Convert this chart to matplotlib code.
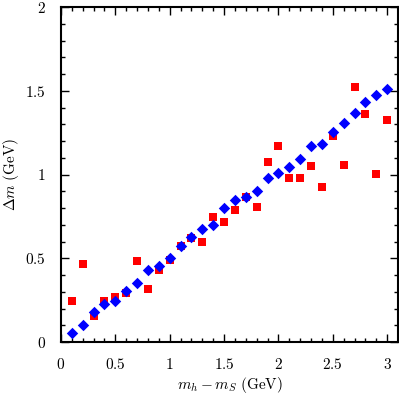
import matplotlib
matplotlib.use("Agg")
import matplotlib.pyplot as plt
from matplotlib.ticker import MultipleLocator, FixedLocator, FixedFormatter

plt.rcParams['mathtext.fontset'] = 'cm'
plt.rcParams['font.family'] = 'serif'
plt.rcParams['font.serif'] = ['DejaVu Serif']

x_vals = [0.1, 0.2, 0.3, 0.4, 0.5, 0.6, 0.7, 0.8, 0.9, 1.0,
          1.1, 1.2, 1.3, 1.4, 1.5, 1.6, 1.7, 1.8, 1.9, 2.0,
          2.1, 2.2, 2.3, 2.4, 2.5, 2.6, 2.7, 2.8, 2.9, 3.0]
red_vals = [0.247, 0.468, 0.153, 0.247, 0.271, 0.293, 0.482, 0.315, 0.430, 0.488,
            0.571, 0.619, 0.597, 0.746, 0.714, 0.790, 0.864, 0.808, 1.077, 1.168,
            0.979, 0.981, 1.049, 0.927, 1.230, 1.057, 1.521, 1.359, 1.005, 1.324]
blue_vals = [0.052, 0.103, 0.177, 0.229, 0.247, 0.303, 0.354, 0.430, 0.454, 0.503,
             0.575, 0.627, 0.677, 0.698, 0.800, 0.846, 0.866, 0.900, 0.981, 1.009,
             1.045, 1.093, 1.168, 1.180, 1.256, 1.309, 1.365, 1.431, 1.473, 1.512]
xticks = [0, 0.5, 1, 1.5, 2, 2.5, 3]
xtick_labels = ['0', '0.5', '1', '1.5', '2', '2.5', '3']
yticks = [0, 0.5, 1, 1.5, 2]
ytick_labels = ['0', '0.5', '1', '1.5', '2']

fig = plt.figure(figsize=(3.99, 3.97), dpi=100)
ax = fig.add_axes([61/399, 1-342/397, (398-61)/399, (342-7)/397])

ax.scatter(x_vals, red_vals, marker='s', s=38, color='#ff0000', linewidths=0, zorder=3)
ax.scatter(x_vals, blue_vals, marker='D', s=34, color='#0000ff', linewidths=0, zorder=4)

ax.set_xlim(0, 3.1)
ax.set_ylim(0, 2)
ax.xaxis.set_major_locator(FixedLocator(xticks))
ax.xaxis.set_major_formatter(FixedFormatter(['$%s$' % t for t in xtick_labels]))
ax.yaxis.set_major_locator(FixedLocator(yticks))
ax.yaxis.set_major_formatter(FixedFormatter(['$%s$' % t for t in ytick_labels]))
ax.xaxis.set_minor_locator(MultipleLocator(0.1))
ax.yaxis.set_minor_locator(MultipleLocator(0.1))
ax.tick_params(which='both', direction='in', top=True, right=True, labelsize=11, width=1.0)
ax.tick_params(which='major', length=6, pad=11)
ax.tick_params(which='minor', length=3)
for s in ax.spines.values():
    s.set_linewidth(1.5)

ax.set_xlabel(r'$m_h - m_S\ \mathrm{(GeV)}$', fontsize=11, labelpad=2)
ax.set_ylabel(r'$\Delta m\ \mathrm{(GeV)}$', fontsize=11, labelpad=3)

fig.savefig('out.png', dpi=100)
